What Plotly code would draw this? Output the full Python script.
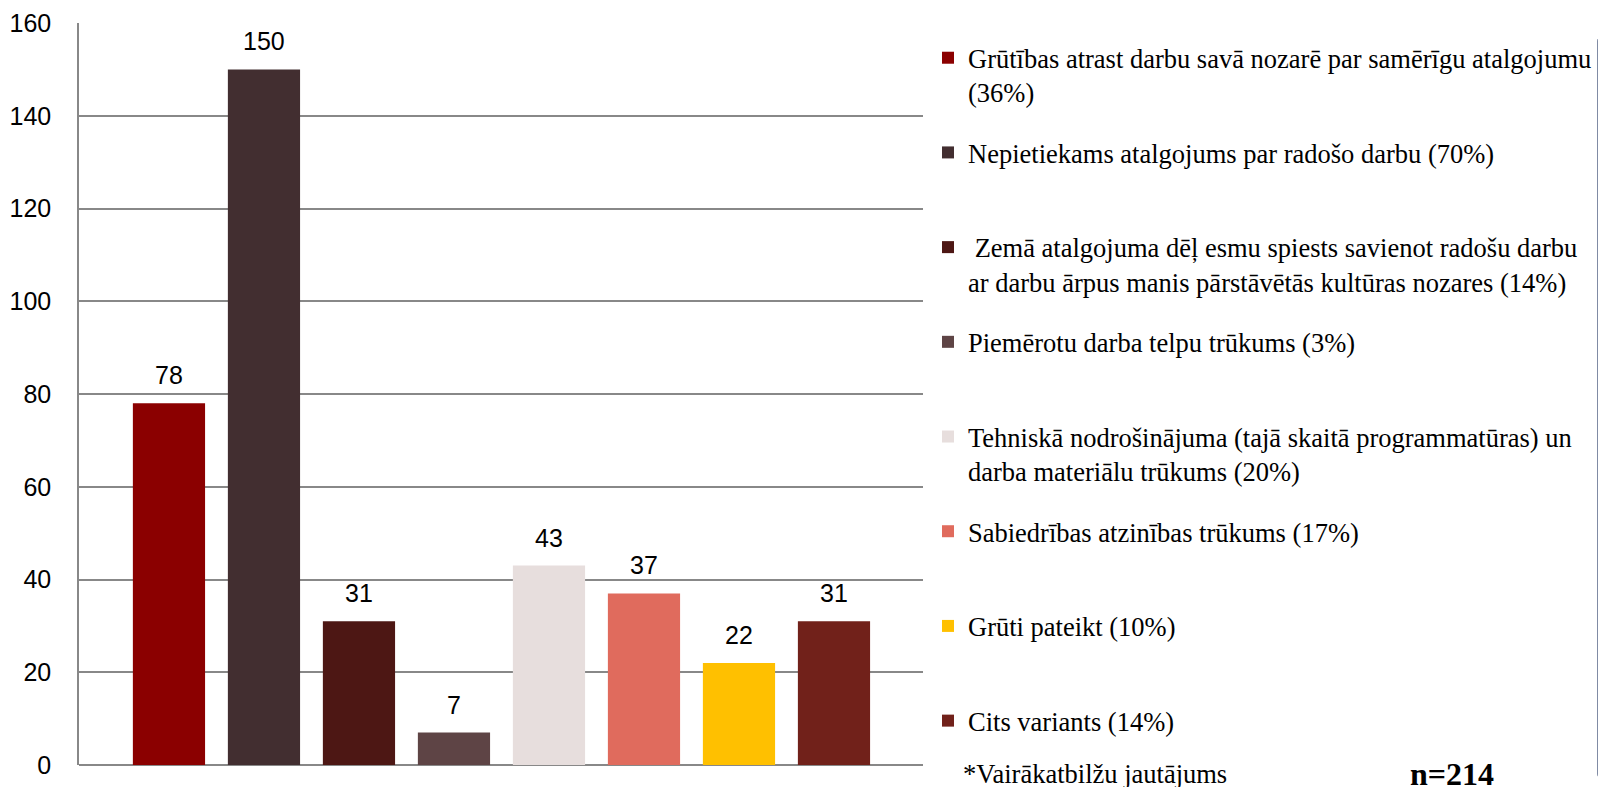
import plotly.graph_objects as go

labels = [
    "Grūtības atrast darbu savā nozarē par samērīgu atalgojumu<br>(36%)",
    "Nepietiekams atalgojums par radošo darbu (70%)",
    "\u00a0Zemā atalgojuma dēļ esmu spiests savienot radošu darbu<br>ar darbu ārpus manis pārstāvētās kultūras nozares (14%)",
    "Piemērotu darba telpu trūkums (3%)",
    "Tehniskā nodrošinājuma (tajā skaitā programmatūras) un<br>darba materiālu trūkums (20%)",
    "Sabiedrības atzinības trūkums (17%)",
    "Grūti pateikt (10%)",
    "Cits variants (14%)",
]
values = [78, 150, 31, 7, 43, 37, 22, 31]
colors = ["#8B0000", "#422E30", "#4D1714", "#5E4445", "#E7DEDD", "#E06B5D", "#FFC000", "#71211A"]
y_ticks = [0, 20, 40, 60, 80, 100, 120, 140, 160]

W, H = 1598, 787
L, R, T, B = 79, 923, 23, 765
PW, PH = R - L, B - T

fig = go.Figure()
for i, (lab, v, c) in enumerate(zip(labels, values, colors)):
    text = lab if "<br>" in lab else lab + "<br>\u00a0"
    fig.add_trace(go.Bar(
        x=[i], y=[v], name=text, marker=dict(color=c, line=dict(width=0)),
        width=0.76, legendgroup=str(i), hoverinfo="y",
    ))
    fig.add_annotation(x=i, y=v, text=str(v), showarrow=False, yanchor="bottom",
                       yshift=12, font=dict(family="Liberation Sans, Arial", size=25, color="#000"))

fig.add_annotation(xref="paper", yref="paper", x=(961 - L) / PW, y=(B - 774) / PH,
                   xanchor="left", yanchor="middle", showarrow=False,
                   text="*Vairākatbilžu jautājums",
                   font=dict(family="Liberation Serif, Times New Roman", size=26.5, color="#000"))
fig.add_annotation(xref="paper", yref="paper", x=(1408 - L) / PW, y=(B - 774) / PH,
                   xanchor="left", yanchor="middle", showarrow=False,
                   text="<b>n=214</b>",
                   font=dict(family="Liberation Serif, Times New Roman", size=32, color="#000"))

fig.update_layout(
    width=W, height=H,
    margin=dict(l=L, r=W - R, t=T, b=H - B, pad=0, autoexpand=False),
    paper_bgcolor="white", plot_bgcolor="white",
    showlegend=True,
    legend=dict(
        x=(928 - L) / PW, xanchor="left",
        y=(B - 34) / PH, yanchor="top",
        font=dict(family="Liberation Serif, Times New Roman", size=26.5, color="#000"),
        valign="top", tracegroupgap=22.8, traceorder="grouped",
        bgcolor="rgba(0,0,0,0)", borderwidth=0,
    ),
    xaxis=dict(range=[-0.947, 7.937], showticklabels=False, showgrid=False,
               zeroline=False, showline=False, fixedrange=True),
    yaxis=dict(range=[0, 160], tickvals=y_ticks, ticktext=[str(t) for t in y_ticks],
               showgrid=True, gridcolor="#888888", gridwidth=1.5,
               zeroline=True, zerolinecolor="#888888", zerolinewidth=1.5,
               showline=True, linecolor="#888888", linewidth=1.5,
               ticks="", ticklabelstandoff=21,
               tickfont=dict(family="Liberation Sans, Arial", size=25, color="#000")),
    bargap=0.2,
)

fig.write_html("out.html", config={"displayModeBar": False},
               post_script="document.body.style.margin='0';")
